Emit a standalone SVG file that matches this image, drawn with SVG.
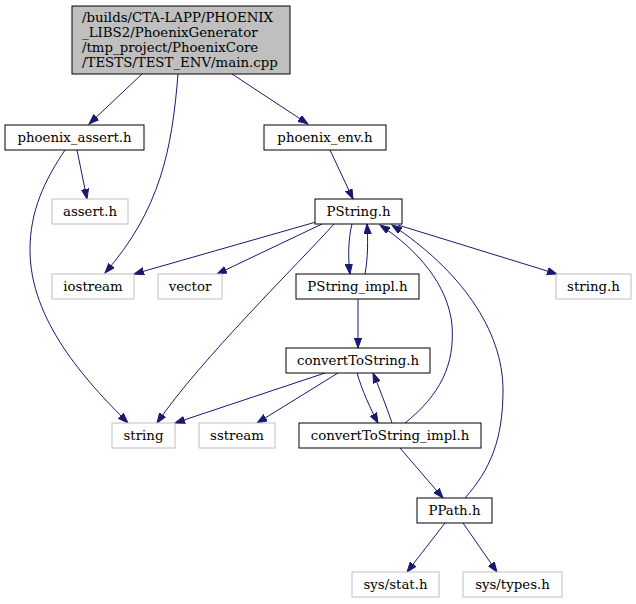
<svg xmlns="http://www.w3.org/2000/svg" width="636" height="604" viewBox="0 0 636 604">
<defs>
<style>
text{font-family:"DejaVu Serif",serif;font-size:13.33px;fill:#000}
.c{text-anchor:middle}
.n rect{fill:#fff;stroke:#000;stroke-width:1}
.x rect{fill:#fff;stroke:#bfbfbf;stroke-width:1}
#edges path{fill:none;stroke:#191970;stroke-width:1;marker-end:url(#ah)}
</style>
<marker id="ah" markerUnits="userSpaceOnUse" markerWidth="11" markerHeight="8" viewBox="0 -4 11 8" refX="10" refY="0" orient="auto">
<path d="M0,-3.6 L10,0 L0,3.6 z" fill="#191970" stroke="#191970" stroke-width="1"/>
</marker>
</defs>
<rect width="636" height="604" fill="#fff"/>
<g id="edges">
<path d="M142,74 L89,124"/>
<path d="M178,74 C172,150 160,210 105,273"/>
<path d="M232,74 L308,124"/>
<path d="M77,150 L87,199"/>
<path d="M65,150 C45,180 30,210 30,250 C30,320 85,380 128,423"/>
<path d="M330,150 L353,199"/>
<path d="M316,222 L134,274"/>
<path d="M322,224 L217,274"/>
<path d="M334,224 C300,262 200,360 157,423"/>
<path d="M352,224 C348,240 348,258 350,274"/>
<path d="M365,274 C368,258 368,240 367,224"/>
<path d="M398,225 L557,274"/>
<path d="M358,299 L358,348"/>
<path d="M325,373 L175,423"/>
<path d="M338,373 L257,423"/>
<path d="M357,373 C362,390 370,408 378,423"/>
<path d="M392,423 C387,408 380,390 373,373"/>
<path d="M405,423 C440,395 455,365 452,325 C448,285 418,250 380,225"/>
<path d="M465,498 C490,470 503,440 503,390 C503,330 460,270 392,225"/>
<path d="M400,448 L443,498"/>
<path d="M445,523 L407,572"/>
<path d="M463,523 L497,572"/>
</g>
<g id="main" class="n">
<rect x="72" y="6" width="218" height="68" style="fill:#bfbfbf"/>
<text x="82" y="22">/builds/CTA-LAPP/PHOENIX</text>
<text x="82" y="37">_LIBS2/PhoenixGenerator</text>
<text x="82" y="52">/tmp_project/PhoenixCore</text>
<text x="82" y="67">/TESTS/TEST_ENV/main.cpp</text>
</g>
<g id="phoenix_assert" class="n"><rect x="5" y="125" width="139" height="25"/><text class="c" x="74.5" y="142">phoenix_assert.h</text></g>
<g id="phoenix_env" class="n"><rect x="264" y="125" width="122" height="25"/><text class="c" x="325" y="142">phoenix_env.h</text></g>
<g id="assert" class="x"><rect x="52" y="199" width="76" height="25"/><text class="c" x="90" y="216">assert.h</text></g>
<g id="iostream" class="x"><rect x="52" y="274" width="82" height="25"/><text class="c" x="93" y="291">iostream</text></g>
<g id="vector" class="x"><rect x="158" y="274" width="64" height="25"/><text class="c" x="190" y="291">vector</text></g>
<g id="PString" class="n"><rect x="315" y="199" width="87" height="25"/><text class="c" x="358.5" y="216">PString.h</text></g>
<g id="PString_impl" class="n"><rect x="296" y="274" width="123" height="25"/><text class="c" x="357.5" y="291">PString_impl.h</text></g>
<g id="string_h" class="x"><rect x="556" y="274" width="75" height="25"/><text class="c" x="593.5" y="291">string.h</text></g>
<g id="convertToString" class="n"><rect x="286" y="348" width="144" height="25"/><text class="c" x="358" y="365">convertToString.h</text></g>
<g id="string" class="x"><rect x="112" y="423" width="63" height="25"/><text class="c" x="143.5" y="440">string</text></g>
<g id="sstream" class="x"><rect x="199" y="423" width="76" height="25"/><text class="c" x="237" y="440">sstream</text></g>
<g id="convertToString_impl" class="n"><rect x="299" y="423" width="182" height="25"/><text class="c" x="390" y="440">convertToString_impl.h</text></g>
<g id="PPath" class="n"><rect x="417" y="498" width="75" height="25"/><text class="c" x="454.5" y="515">PPath.h</text></g>
<g id="sys_stat" class="x"><rect x="352" y="572" width="87" height="25"/><text class="c" x="395.5" y="589">sys/stat.h</text></g>
<g id="sys_types" class="x"><rect x="463" y="572" width="99" height="25"/><text class="c" x="512.5" y="589">sys/types.h</text></g>
</svg>
